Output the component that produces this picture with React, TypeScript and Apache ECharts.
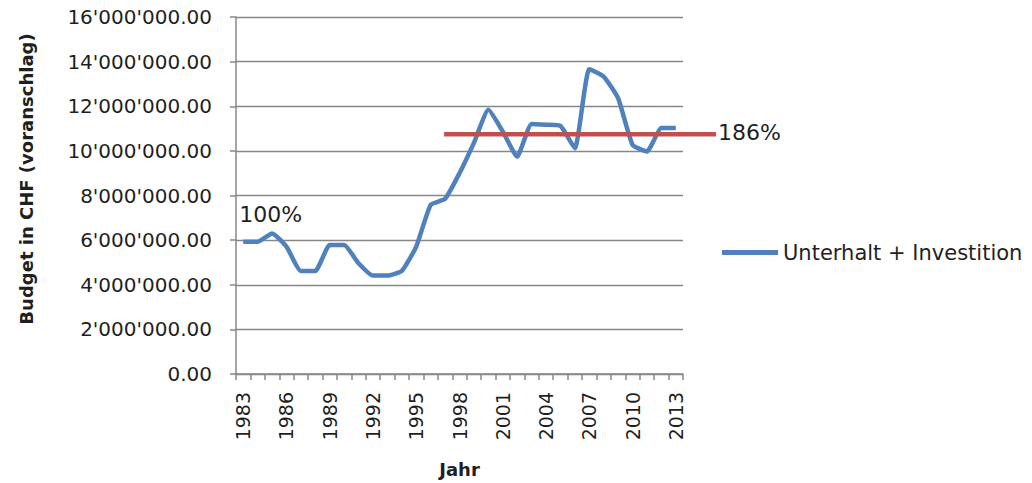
import React, { useEffect, useRef } from "react";
import * as echarts from "echarts";

const years = [
  "1983", "1984", "1985", "1986", "1987", "1988", "1989", "1990", "1991", "1992",
  "1993", "1994", "1995", "1996", "1997", "1998", "1999", "2000", "2001", "2002",
  "2003", "2004", "2005", "2006", "2007", "2008", "2009", "2010", "2011", "2012", "2013",
];

const budget = [
  5930000, 5930000, 6300000, 5710000, 4620000, 4620000, 5780000, 5780000, 4960000, 4410000,
  4410000, 4620000, 5710000, 7580000, 7850000, 9000000, 10360000, 11840000, 10870000, 9740000,
  11210000, 11170000, 11120000, 10120000, 13660000, 13330000, 12360000, 10270000, 9970000, 11020000, 11020000,
];

const seriesName = "Unterhalt + Investition";
const refStartYear = "1997";
const refValue = 10750000;
const startLabel = "100%";
const refLabel = "186%";
const yTitle = "Budget in CHF (voranschlag)";
const xTitle = "Jahr";

const yMin = 0;
const yMax = 16000000;
const yStep = 2000000;

const FONT = "DejaVu Sans";
const TEXT = "#1f1f1f";
const GRAY = "#878787";

function fmt(v: number): string {
  const s = Math.round(v).toString();
  return s.replace(/\B(?=(\d{3})+(?!\d))/g, "'") + ".00";
}

export default function App() {
  const ref = useRef<HTMLDivElement>(null);
  useEffect(() => {
    if (!ref.current) return;
    const chart = echarts.init(ref.current, null, { renderer: "svg" });
    const gridLeft = 236;
    const gridRight = 349;
    chart.setOption({
      animation: false,
      backgroundColor: "#ffffff",
      grid: { left: gridLeft, right: gridRight, top: 17, bottom: 109, containLabel: false },
      legend: {
        left: 722,
        top: 242,
        padding: 0,
        icon: "rect",
        itemWidth: 56,
        itemHeight: 5,
        itemGap: 10,
        textStyle: { fontFamily: FONT, fontSize: 21, color: TEXT, padding: [0, 0, 0, 0] },
        data: [seriesName],
      },
      xAxis: {
        type: "category",
        data: years,
        boundaryGap: true,
        name: xTitle,
        nameLocation: "middle",
        nameGap: 86,
        nameTextStyle: { fontFamily: FONT, fontSize: 18, fontWeight: "bold", color: TEXT },
        axisLine: { show: true, lineStyle: { color: GRAY, width: 1.5 } },
        axisTick: { show: true, interval: 0, length: 6, lineStyle: { color: GRAY, width: 1.5 } },
        axisLabel: {
          interval: 2,
          rotate: 90,
          margin: 18,
          fontFamily: FONT,
          fontSize: 19,
          color: TEXT,
        },
        splitLine: { show: false },
      },
      yAxis: {
        type: "value",
        min: yMin,
        max: yMax,
        interval: yStep,
        axisLine: { show: true, lineStyle: { color: GRAY, width: 1.5 } },
        axisTick: { show: true, length: 6, lineStyle: { color: GRAY, width: 1.5 } },
        axisLabel: {
          margin: 24,
          fontFamily: FONT,
          fontSize: 20,
          color: TEXT,
          formatter: (v: number) => fmt(v),
        },
        splitLine: { show: true, lineStyle: { color: GRAY, width: 1.4 } },
      },
      series: [
        {
          name: seriesName,
          type: "line",
          data: budget,
          smooth: 0.15,
          symbol: "none",
          lineStyle: { color: "#4F81BD", width: 4.5 },
          itemStyle: { color: "#4F81BD" },
        },
      ],
    });

    const idx = years.indexOf(refStartYear);
    const p0 = chart.convertToPixel({ gridIndex: 0 }, [idx, refValue]) as number[];
    const p1 = chart.convertToPixel({ gridIndex: 0 }, [0, budget[0]]) as number[];
    const plotRight = chart.getWidth() - gridRight;
    const x2 = plotRight + 33;

    chart.setOption({
      graphic: [
        {
          type: "line",
          shape: { x1: p0[0] - 1, y1: p0[1], x2: x2, y2: p0[1] },
          style: { stroke: "#C0504D", lineWidth: 4.5 },
          z: 10,
        },
        {
          type: "text",
          x: x2 + 2,
          y: p0[1] - 2,
          style: {
            text: refLabel,
            fontFamily: FONT,
            fontSize: 22,
            fill: TEXT,
            textAlign: "left",
            textVerticalAlign: "middle",
          },
          z: 10,
        },
        {
          type: "text",
          x: p1[0] - 4,
          y: p1[1] - 27,
          style: {
            text: startLabel,
            fontFamily: FONT,
            fontSize: 22,
            fill: TEXT,
            textAlign: "left",
            textVerticalAlign: "middle",
          },
          z: 10,
        },
        {
          type: "text",
          x: 26,
          y: 179,
          rotation: Math.PI / 2,
          style: {
            text: yTitle,
            fontFamily: FONT,
            fontSize: 18,
            fontWeight: "bold",
            fill: TEXT,
            textAlign: "center",
            textVerticalAlign: "middle",
          },
        },
      ],
    });

    return () => chart.dispose();
  }, []);
  return (
    <div
      ref={ref}
      style={{ position: "fixed", left: 0, top: 0, width: 1032, height: 483, background: "#fff" }}
    />
  );
}
